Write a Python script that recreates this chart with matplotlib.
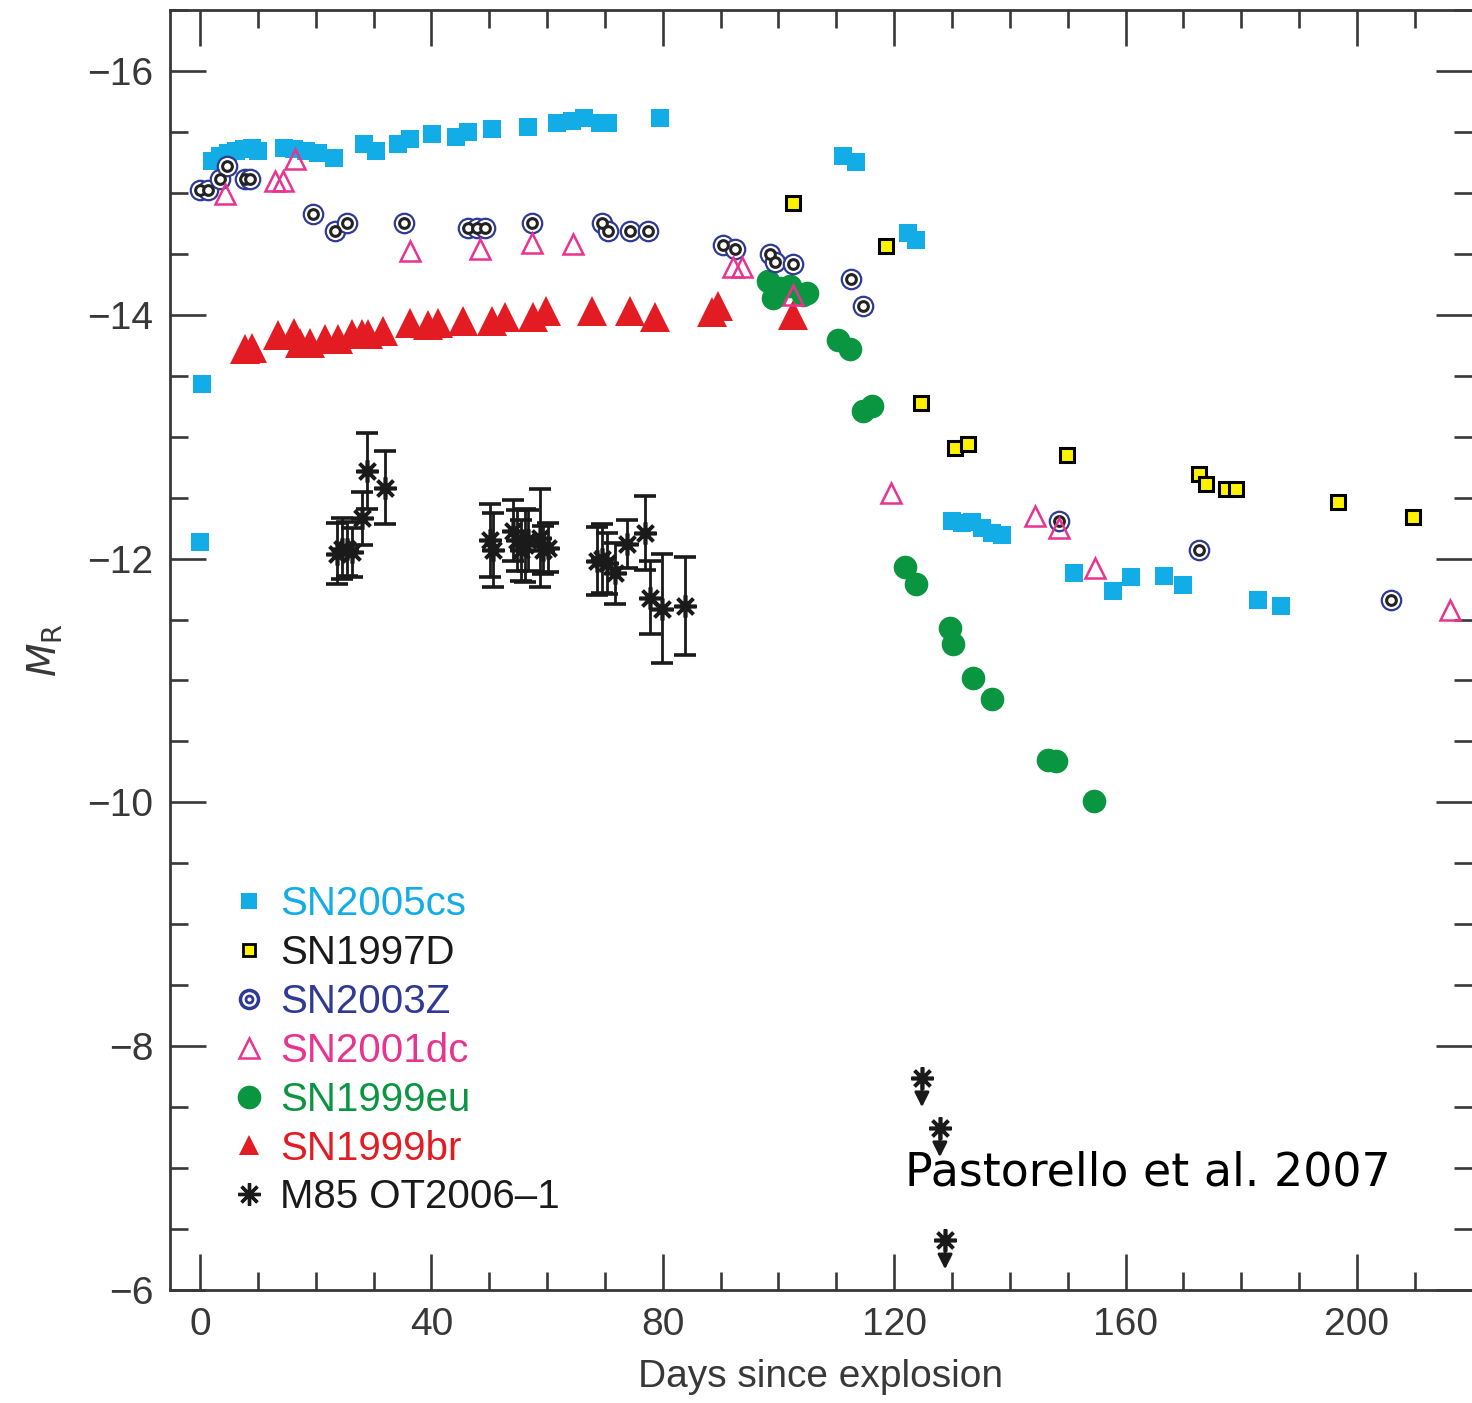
import matplotlib
matplotlib.use("Agg")
import matplotlib.pyplot as plt
from matplotlib.lines import Line2D
from matplotlib.ticker import MultipleLocator

# ---- light curves (days since explosion, absolute R magnitude) ----
sn2005cs_day = [0, 0.35, 2.1, 3.5, 4.8, 6.2, 7.6, 9.0, 10.0, 14.5, 16.2, 18.3, 20.4, 23.2,
                28.3, 30.4, 34.2, 36.3, 40.1, 44.3, 46.3, 50.5, 56.7, 61.7, 64.3, 66.4,
                69.1, 70.5, 79.5, 111.1, 113.4, 122.4, 123.8, 130.0, 131.7, 133.4, 135.2,
                136.9, 138.6, 151.1, 157.8, 160.9, 166.6, 170.0, 182.9, 186.9]
sn2005cs_mag = [-12.14, -13.43, -15.26, -15.30, -15.33, -15.34, -15.36, -15.37, -15.34,
                -15.37, -15.36, -15.34, -15.33, -15.29, -15.40, -15.34, -15.40, -15.44,
                -15.48, -15.46, -15.50, -15.52, -15.54, -15.57, -15.59, -15.61, -15.57,
                -15.57, -15.61, -15.30, -15.25, -14.67, -14.61, -12.31, -12.29, -12.30,
                -12.25, -12.21, -12.19, -11.88, -11.73, -11.85, -11.86, -11.78, -11.66,
                -11.61]

sn1997d_day = [102.5, 118.6, 124.6, 130.5, 132.8, 149.9, 172.7, 173.9, 177.4, 179.1, 196.7, 209.7]
sn1997d_mag = [-14.92, -14.56, -13.28, -12.91, -12.94, -12.85, -12.69, -12.61, -12.57, -12.57,
               -12.46, -12.34]

sn2003z_day = [0, 1.4, 3.5, 4.7, 7.8, 8.6, 19.5, 23.3, 25.4, 35.3, 46.3, 47.9, 49.3, 57.4,
               69.5, 70.5, 74.3, 77.4, 90.4, 92.5, 98.5, 99.4, 102.5, 112.5, 114.6, 148.5,
               172.7, 205.9]
sn2003z_mag = [-15.02, -15.02, -15.11, -15.22, -15.11, -15.11, -14.83, -14.69, -14.75, -14.75,
               -14.71, -14.71, -14.71, -14.75, -14.75, -14.69, -14.69, -14.69, -14.57, -14.54,
               -14.50, -14.43, -14.42, -14.29, -14.07, -12.31, -12.07, -11.66]

sn2001dc_day = [4.3, 13.0, 14.3, 16.4, 36.3, 48.4, 57.4, 64.5, 92.1, 93.7, 102.5, 119.4,
                144.3, 148.5, 154.7, 216.1]
sn2001dc_mag = [-14.99, -15.10, -15.10, -15.28, -14.52, -14.54, -14.59, -14.58, -14.39, -14.39,
                -14.16, -12.54, -12.35, -12.25, -11.92, -11.58]

sn1999eu_day = [98.2, 99.0, 100.3, 102.0, 104.2, 104.9, 110.3, 112.4, 114.6, 116.2, 121.9,
                123.8, 129.6, 130.2, 133.6, 136.9, 146.6, 148.0, 154.5]
sn1999eu_mag = [-14.28, -14.14, -14.22, -14.24, -14.16, -14.18, -13.79, -13.72, -13.21, -13.25,
                -11.93, -11.79, -11.43, -11.30, -11.02, -10.85, -10.35, -10.34, -10.01]

sn1999br_day = [7.8, 9.0, 13.5, 16.2, 17.3, 19.0, 21.6, 23.9, 26.3, 28.0, 29.0, 31.6, 36.3,
                39.4, 41.1, 45.5, 50.5, 52.7, 57.6, 59.8, 67.8, 74.3, 78.7, 88.5, 89.5, 102.5]
sn1999br_mag = [-13.72, -13.73, -13.83, -13.85, -13.77, -13.77, -13.80, -13.80, -13.84, -13.84,
                -13.84, -13.87, -13.93, -13.92, -13.93, -13.95, -13.95, -13.98, -13.98, -14.03,
                -14.03, -14.03, -13.98, -14.02, -14.07, -14.00]

m85_day = [23.7, 24.5, 25.4, 26.3, 28.0, 28.9, 32.0, 50.1, 50.6, 54.1, 54.8, 55.5, 56.2, 56.7,
           58.8, 59.3, 60.2, 68.6, 69.5, 70.4, 71.7, 73.8, 76.9, 77.8, 79.9, 83.8]
m85_mag = [-12.04, -12.08, -12.08, -12.05, -12.33, -12.72, -12.58, -12.15, -12.07, -12.23,
           -12.15, -12.07, -12.11, -12.15, -12.17, -12.07, -12.09, -11.98, -12.00, -11.96,
           -11.88, -12.12, -12.21, -11.68, -11.59, -11.61]
m85_err = [0.25, 0.25, 0.22, 0.20, 0.22, 0.31, 0.30, 0.30, 0.30, 0.25, 0.25, 0.25, 0.30, 0.25,
           0.40, 0.20, 0.20, 0.28, 0.28, 0.25, 0.25, 0.20, 0.30, 0.30, 0.45, 0.40]

# late-time upper limits for M85 OT2006-1
m85_lim_day = [124.8, 127.9, 128.8]
m85_lim_mag = [-7.74, -7.33, -6.41]

x_ticks = [0, 40, 80, 120, 160, 200]
y_ticks = [-16, -14, -12, -10, -8, -6]

C_CYAN = "#12ace6"
C_YELLOW = "#fff200"
C_BLUE = "#2e3a93"
C_MAGENTA = "#e8338f"
C_GREEN = "#0a9641"
C_RED = "#e31b23"
C_AXIS = "#383838"
C_INK = "#1a1a1a"

plt.rcParams["font.family"] = ["Liberation Sans", "DejaVu Sans"]

fig = plt.figure(figsize=(14.72, 14.03), dpi=100)
ax = fig.add_axes([170 / 1472, 1 - 1290 / 1403, 1 - 170 / 1472, (1290 - 10) / 1403])

ax.plot(sn2005cs_day, sn2005cs_mag, ls="none", marker="s", ms=13, mfc=C_CYAN, mec=C_CYAN,
        mew=0, zorder=3)
ax.plot(sn1999br_day, sn1999br_mag, ls="none", marker="^", ms=21, mfc=C_RED, mec=C_RED,
        mew=0, zorder=3)
ax.plot(sn1999eu_day, sn1999eu_mag, ls="none", marker="o", ms=17, mfc=C_GREEN, mec=C_GREEN,
        mew=0, zorder=4)
ax.plot(sn1997d_day, sn1997d_mag, ls="none", marker="s", ms=10, mfc=C_YELLOW, mec="black",
        mew=2.2, zorder=5)
ax.plot(sn2003z_day, sn2003z_mag, ls="none", marker="o", ms=14, mfc="white", mec=C_BLUE,
        mew=1.6, zorder=5)
ax.plot(sn2003z_day, sn2003z_mag, ls="none", marker="o", ms=7, mfc="white", mec="#222222",
        mew=2.2, zorder=5)
ax.plot(sn2001dc_day, sn2001dc_mag, ls="none", marker="^", ms=15, mfc="none", mec=C_MAGENTA,
        mew=1.8, zorder=6)

ax.errorbar(m85_day, m85_mag, yerr=m85_err, ls="none", marker=(8, 2, 0), ms=16, mew=2.6,
            color=C_INK, ecolor=C_INK, elinewidth=2.0, capsize=8, capthick=2.0,
            zorder=7)

# upper limits: asterisk with a downward arrow
ax.plot(m85_lim_day, m85_lim_mag, ls="none", marker=(8, 2, 0), ms=16, mew=2.6,
        color=C_INK, zorder=7)
for d, m in zip(m85_lim_day, m85_lim_mag):
    ax.annotate("", xy=(d, m + 0.24), xytext=(d, m),
                arrowprops=dict(arrowstyle="-|>", color=C_INK, lw=2.0,
                                mutation_scale=22, shrinkA=0, shrinkB=0),
                zorder=7)

ax.set_xlim(-5.2, 219.9)
ax.set_ylim(-6, -16.5)

ax.xaxis.set_minor_locator(MultipleLocator(10))
ax.yaxis.set_minor_locator(MultipleLocator(0.5))
ax.set_xticks(x_ticks)
ax.set_yticks(y_ticks)
ax.tick_params(which="both", direction="in", top=True, right=True, color=C_AXIS,
               width=1.9, labelcolor=C_AXIS, labelsize=28)
ax.tick_params(which="major", length=26, pad=12)
ax.tick_params(which="minor", length=13)

for side in ("left", "top", "bottom"):
    ax.spines[side].set_color(C_AXIS)
    ax.spines[side].set_linewidth(2.0)
ax.spines["right"].set_visible(False)

ax.set_xlabel("Days since explosion", fontsize=28, color=C_AXIS, labelpad=12)
ax.set_ylabel(r"$M_{\mathrm{R}}$", fontsize=28, color=C_AXIS, labelpad=16)

handles = [
    Line2D([], [], ls="none", marker="s", ms=11, mfc=C_CYAN, mec=C_CYAN, mew=0),
    Line2D([], [], ls="none", marker="s", ms=8, mfc=C_YELLOW, mec="black", mew=2),
    (Line2D([], [], ls="none", marker="o", ms=13, mfc="white", mec=C_BLUE, mew=2.5),
     Line2D([], [], ls="none", marker="o", ms=5, mfc="white", mec=C_BLUE, mew=2)),
    Line2D([], [], ls="none", marker="^", ms=14, mfc="none", mec=C_MAGENTA, mew=1.8),
    Line2D([], [], ls="none", marker="o", ms=17, mfc=C_GREEN, mec=C_GREEN, mew=0),
    Line2D([], [], ls="none", marker="^", ms=15, mfc=C_RED, mec=C_RED, mew=0),
    Line2D([], [], ls="none", marker=(8, 2, 0), ms=16, mew=2.4, color=C_INK),
]
labels = ["SN2005cs", "SN1997D", "SN2003Z", "SN2001dc", "SN1999eu", "SN1999br", "M85 OT2006\u20131"]
label_colors = [C_CYAN, C_INK, C_BLUE, C_MAGENTA, C_GREEN, C_RED, C_INK]

leg = ax.legend(handles, labels, loc="upper left", bbox_to_anchor=(0.0296, 0.332),
                frameon=False, fontsize=29, handlelength=1.0, handletextpad=0.27,
                labelspacing=0.27, borderpad=0, labelcolor=label_colors)

fig.text(905 / 1472, 1 - 1185 / 1403, "Pastorello et al. 2007", fontsize=33,
         color="black", ha="left", va="baseline", family=["DejaVu Sans"])

fig.savefig("out.png", dpi=100, facecolor="white")
